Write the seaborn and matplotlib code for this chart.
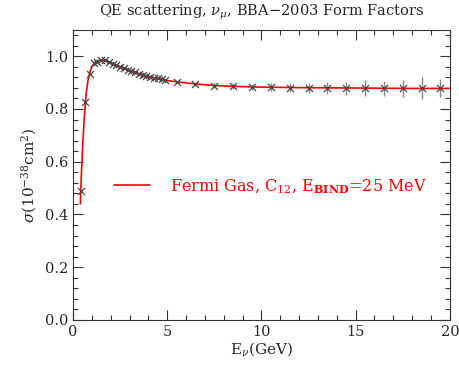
import numpy as np
import pandas as pd
import matplotlib
matplotlib.use("Agg")
import matplotlib.pyplot as plt
from matplotlib.ticker import MultipleLocator
import seaborn as sns

# Simulated points (E in GeV, sigma in 1e-38 cm^2)
point_E = [0.42, 0.65, 0.9, 1.1, 1.3, 1.5, 1.7, 1.9, 2.1, 2.3, 2.5, 2.7, 2.9,
           3.1, 3.3, 3.5, 3.7, 3.9, 4.1, 4.3, 4.5, 4.7, 4.9,
           5.5, 6.5, 7.5, 8.5, 9.5, 10.5, 11.5, 12.5, 13.5, 14.5, 15.5,
           16.5, 17.5, 18.5, 19.5]
point_sigma = [0.49, 0.826, 0.934, 0.976, 0.980, 0.984, 0.986, 0.978, 0.972,
               0.966, 0.960, 0.954, 0.949, 0.944, 0.939, 0.934, 0.930, 0.926,
               0.922, 0.919, 0.916, 0.913, 0.910,
               0.903, 0.895, 0.889, 0.886, 0.883, 0.882, 0.881, 0.880, 0.880,
               0.879, 0.879, 0.879, 0.878, 0.878, 0.878]
point_err = [0.004, 0.004, 0.004, 0.004, 0.004, 0.004, 0.004, 0.004, 0.004,
             0.004, 0.004, 0.004, 0.004, 0.004, 0.004, 0.004, 0.004, 0.004,
             0.004, 0.004, 0.004, 0.004, 0.004,
             0.006, 0.008, 0.010, 0.011, 0.012, 0.015, 0.018, 0.020, 0.022,
             0.025, 0.030, 0.028, 0.032, 0.042, 0.034]

# Fermi gas model curve
curve_E = [0.39, 0.45, 0.5, 0.6, 0.7, 0.8, 0.9, 1.0, 1.2, 1.4, 1.6, 1.8, 2.0,
           2.5, 3.0, 3.5, 4.0, 4.5, 5.0, 5.5, 6.5, 7.5, 8.5, 10.0, 12.0,
           14.0, 16.0, 18.0, 20.0]
curve_sigma = [0.44, 0.56, 0.64, 0.77, 0.86, 0.91, 0.94, 0.96, 0.980, 0.984,
               0.985, 0.982, 0.975, 0.960, 0.946, 0.933, 0.922, 0.915, 0.908,
               0.903, 0.895, 0.889, 0.886, 0.883, 0.881, 0.880, 0.879, 0.878,
               0.878]

sns.set_style("ticks")
plt.rcParams['font.family'] = ['DejaVu Serif']
plt.rcParams['mathtext.fontset'] = 'dejavuserif'

fig = plt.figure(figsize=(4.59, 3.69), dpi=100)
ax = fig.add_axes([0.159, 0.133, 0.821, 0.786])

pts = pd.DataFrame({"E": point_E, "sigma": point_sigma, "err": point_err})
crv = pd.DataFrame({"E": curve_E, "sigma": curve_sigma})

ax.errorbar(pts["E"], pts["sigma"], yerr=pts["err"], fmt="none",
            ecolor="#888888", elinewidth=1.0, capsize=0, zorder=2)
sns.lineplot(data=crv, x="E", y="sigma", color="red", lw=1.2, ax=ax,
             zorder=3, label="Fermi Gas, C$_{12}$, E$_{\\mathbf{BIND}}$=25 MeV")
sns.scatterplot(data=pts, x="E", y="sigma", marker="x", color="#444444",
                s=26, linewidth=0.9, ax=ax, zorder=4)

ax.set_xlim(0, 20)
ax.set_ylim(0, 1.1)
ax.xaxis.set_major_locator(MultipleLocator(5))
ax.xaxis.set_minor_locator(MultipleLocator(1))
ax.yaxis.set_major_locator(MultipleLocator(0.2))
ax.yaxis.set_minor_locator(MultipleLocator(0.04))
ax.tick_params(which="both", direction="in", top=True, right=True,
               color="#333333", labelsize=10.5)
ax.tick_params(which="major", length=7, width=0.8)
ax.tick_params(which="minor", length=3.5, width=0.8)
ax.set_yticks([0, 0.2, 0.4, 0.6, 0.8, 1.0])
ax.set_yticklabels(["0.0", "0.2", "0.4", "0.6", "0.8", "1.0"])
for s in ax.spines.values():
    s.set_linewidth(0.8)
    s.set_color("#333333")

ax.set_xlabel("E$_\\nu$(GeV)", fontsize=11, labelpad=1)
ax.set_ylabel("$\\sigma$(10$^{-38}$cm$^2$)", fontsize=11, labelpad=4)
ax.set_title("QE scattering, $\\nu_\\mu$, BBA$-$2003 Form Factors",
             fontsize=10.5, pad=10)

leg = ax.legend(loc="center left", bbox_to_anchor=(0.07, 0.46), frameon=False,
                handlelength=2.3, handletextpad=1.2, fontsize=11.5)
for t in leg.get_texts():
    t.set_color("red")

fig.savefig("out.png", dpi=100)
